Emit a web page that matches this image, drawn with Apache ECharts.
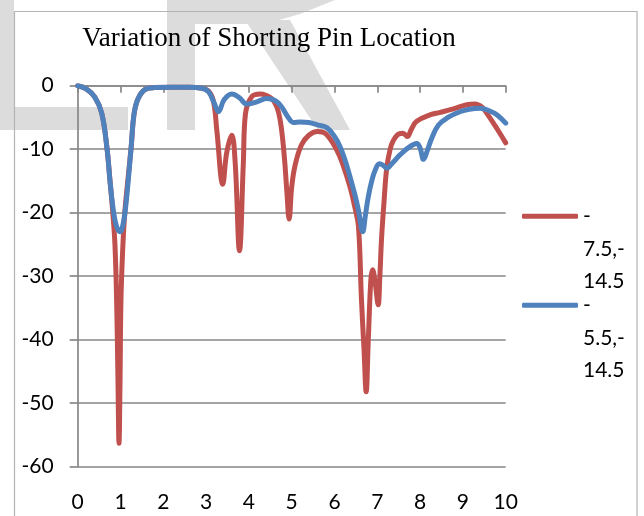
<!DOCTYPE html>
<html><head><meta charset="utf-8">
<script src="https://cdn.jsdelivr.net/npm/echarts@6/dist/echarts.min.js"></script>
<style>html,body{margin:0;padding:0;background:#fff}#c{width:644px;height:516px}</style>
</head><body><div id="c"></div>
<script>
const chartTitle = 'Variation of Shorting Pin Location';
const seriesNames = ['-7.5,-14.5', '-5.5,-14.5'];
const seriesColors = ['#C0504D', '#4F81BD'];

const redX = [0,0.2,0.4,0.56,0.68,0.755,0.82,0.87,0.91,0.94,0.965,0.99,1.01,1.05,1.1,1.17,1.25,1.32,1.42,1.6,1.8,2.2,2.6,2.9,3.05,3.17,3.25,3.39,3.48,3.6,3.68,3.78,3.87,3.92,4.07,4.26,4.4,4.53,4.65,4.73,4.79,4.84,4.89,4.94,5.0,5.08,5.23,5.4,5.6,5.8,6.05,6.2,6.36,6.47,6.56,6.63,6.69,6.74,6.79,6.85,6.89,6.95,7.02,7.06,7.1,7.16,7.22,7.3,7.37,7.5,7.6,7.7,7.8,7.92,8.23,8.47,8.8,9.09,9.28,9.45,9.56,9.79,10];
const redY = [0,-0.5,-1.8,-4.3,-9.6,-15,-20,-25,-34,-46,-56.3,-46,-34,-26,-20,-15,-9.6,-4.3,-1.9,-0.5,-0.3,-0.25,-0.25,-0.4,-0.8,-2.4,-7,-15.5,-10.6,-7.8,-12.2,-26,-12.2,-4.4,-1.7,-1.3,-1.5,-2.0,-3.3,-5.4,-8.5,-12.2,-17,-21,-16,-12.5,-9.3,-7.8,-7.2,-7.6,-10.1,-12.5,-15.9,-19,-22.2,-33.7,-41.6,-48.2,-40,-30.5,-29,-31,-34.5,-30,-24,-18,-13,-10,-8.7,-7.6,-7.5,-8.0,-6.8,-5.6,-4.6,-4.2,-3.6,-3.0,-2.9,-3.4,-4.35,-6.7,-9.0];

const blueX = [0,0.2,0.4,0.56,0.68,0.755,0.82,0.9,0.99,1.07,1.13,1.18,1.25,1.32,1.42,1.6,1.8,2.2,2.6,2.9,3.05,3.18,3.29,3.42,3.6,3.78,3.95,4.2,4.42,4.6,4.75,4.9,5.04,5.2,5.4,5.62,5.82,6.0,6.13,6.25,6.36,6.47,6.56,6.66,6.72,6.79,6.87,6.95,7.05,7.13,7.22,7.35,7.53,7.72,7.92,8.0,8.08,8.17,8.27,8.43,8.65,8.93,9.15,9.4,9.6,9.8,10];
const blueY = [0,-0.5,-1.8,-4.3,-9.6,-15,-19,-22,-23,-21.5,-18.5,-15,-9.6,-4.3,-1.9,-0.5,-0.3,-0.25,-0.25,-0.4,-0.9,-2.6,-4.1,-2.2,-1.3,-1.9,-2.9,-2.5,-2.0,-2.3,-3.2,-4.8,-5.8,-5.7,-5.8,-6.2,-6.6,-8.0,-9.6,-11.8,-14.3,-17,-19.6,-23,-20.5,-17.5,-15,-13.3,-12.3,-12.5,-13,-12.2,-10.9,-9.8,-9.1,-9.8,-11.6,-10.2,-8.3,-6.2,-5.0,-4.1,-3.7,-3.55,-3.9,-4.6,-5.9];

const xMin = 0, xMax = 10, xStep = 1;
const yMin = -60, yMax = 0, yStep = 10;

const gridColor = '#878787';
const labelFont = 'Lato';
const markColor = '#dcdcdc';

function pairs(xs, ys) { return xs.map((x, i) => [x, ys[i]]); }
// wrap like the narrow legend box does; two leading blank lines keep the first line level with the icon
function wrapName(n) { return '\n\n' + n.replace(/^-/, '-\n').replace(/,-/, ',-\n'); }

const chart = echarts.init(document.getElementById('c'), null, {renderer: 'canvas'});
const legendText = {fontFamily: labelFont, fontSize: 21, color: '#000', lineHeight: 32.5};
chart.setOption({
  animation: false,
  backgroundColor: '#fff',
  title: {
    text: chartTitle, left: 264, top: 20, textAlign: 'center',
    textStyle: {fontFamily: 'Liberation Serif', fontWeight: 'normal', fontSize: 27, color: '#000'}
  },
  graphic: [
    {type: 'rect', z: -10, silent: true, shape: {x: 0, y: 0, width: 14, height: 130}, style: {fill: markColor}},
    {type: 'rect', z: -10, silent: true, shape: {x: 0, y: 107, width: 128, height: 23}, style: {fill: markColor}},
    {type: 'rect', z: -10, silent: true, shape: {x: 167, y: 0, width: 28, height: 130}, style: {fill: markColor}},
    {type: 'polygon', z: -10, silent: true, shape: {points: [[195, 0], [335, 0], [300, 14], [265, 24], [195, 24]]}, style: {fill: markColor}},
    {type: 'polygon', z: -10, silent: true, shape: {points: [[245, 20], [290, 20], [350, 130], [318, 130]]}, style: {fill: markColor}},
    {type: 'rect', z: -9, silent: true,
     shape: {x: 14.5, y: 11.5, width: 622.5, height: 520},
     style: {fill: 'none', stroke: '#b4b4b4', lineWidth: 1.2}}
  ],
  legend: [0, 1].map(i => ({
    data: [seriesNames[i]], orient: 'vertical', left: 522, top: i === 0 ? 135 : 224, padding: 0,
    icon: 'roundRect', itemWidth: 56, itemHeight: 5, itemGap: 0,
    formatter: wrapName, textStyle: legendText
  })),
  grid: {left: 77.7, right: 138.3, top: 85.7, bottom: 49.3, containLabel: false},
  xAxis: [{
    type: 'value', min: xMin, max: xMax, interval: xStep, position: 'bottom',
    axisLine: {show: false, onZero: false}, axisTick: {show: false}, splitLine: {show: false},
    axisLabel: {margin: 25, fontFamily: labelFont, fontSize: 21, color: '#000'}
  }, {
    type: 'value', min: xMin, max: xMax, interval: xStep, position: 'top',
    axisLine: {show: true, onZero: false, lineStyle: {color: gridColor, width: 1.7}},
    axisTick: {show: true, inside: true, length: 7, lineStyle: {color: gridColor, width: 1.7}},
    axisLabel: {show: false}, splitLine: {show: false}
  }],
  yAxis: {
    type: 'value', min: yMin, max: yMax, interval: yStep,
    axisLine: {show: true, onZero: false, lineStyle: {color: gridColor, width: 1.7}},
    axisTick: {show: true, inside: false, length: 8, lineStyle: {color: gridColor, width: 1.7}},
    splitLine: {show: true, lineStyle: {color: gridColor, width: 1.7}},
    axisLabel: {margin: 24, fontFamily: labelFont, fontSize: 21, color: '#000'}
  },
  series: [0, 1].map(i => ({
    name: seriesNames[i], type: 'line', xAxisIndex: 0,
    data: i === 0 ? pairs(redX, redY) : pairs(blueX, blueY),
    smooth: 0.4, showSymbol: false, symbol: 'none',
    itemStyle: {color: seriesColors[i]},
    lineStyle: {color: seriesColors[i], width: 5, cap: 'round', join: 'round'},
    z: 2 + i
  }))
});
</script></body></html>
